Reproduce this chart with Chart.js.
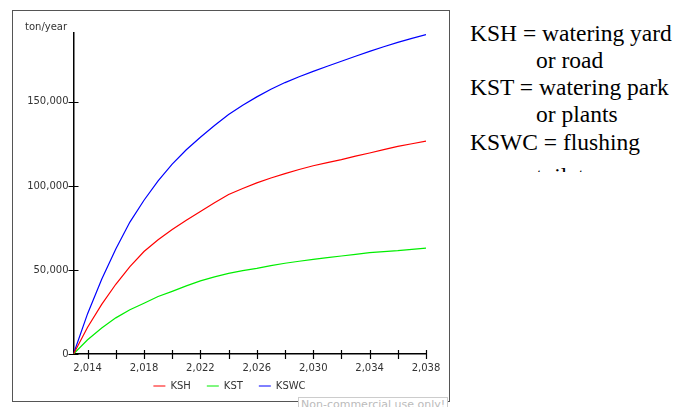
<!DOCTYPE html>
<html>
<head>
<meta charset="utf-8">
<script src="https://cdn.jsdelivr.net/npm/chart.js@4.4.1/dist/chart.umd.min.js"></script>
<style>
  body { margin: 0; width: 692px; height: 407px; overflow: hidden; position: relative; background: #fff; font-family: "DejaVu Sans", sans-serif; }
  #box { position: absolute; left: 12px; top: 10px; width: 436px; height: 390px; border: 1px solid #555; }
  #wrap { position: absolute; left: 13px; top: 11px; width: 436px; height: 401px; }
  #unit { position: absolute; left: 25px; top: 21px; font-size: 10px; line-height: 12px; color: #333; }
  #notes { position: absolute; left: 460px; top: 0; width: 232px; height: 172px; overflow: hidden;
           font-family: "Liberation Serif", "Times New Roman", serif; font-size: 23.5px; line-height: 27px; color: #000; }
  #notes div { position: absolute; white-space: pre; }
  #wm { position: absolute; left: 298px; top: 397px; padding: 0 2px; border: 1px solid #ccc; background: #fff;
        font-size: 11px; line-height: 13px; color: #bbb; }
</style>
</head>
<body>
<div id="box"></div>
<div id="wrap"><canvas id="chart"></canvas></div>
<div id="unit">ton/year</div>
<div id="notes">
  <div style="left:10px;top:19.5px">KSH = watering yard</div>
  <div style="left:76px;top:46.8px">or road</div>
  <div style="left:10px;top:74px">KST = watering park</div>
  <div style="left:76px;top:101.4px">or plants</div>
  <div style="left:10px;top:128.7px">KSWC = flushing</div>
  <div style="left:76px;top:163px">toilets</div>
</div>
<div id="wm">Non-commercial use only!</div>
<script>
// years 2013 - 2038
const years = [2013, 2014, 2015, 2016, 2017, 2018, 2019, 2020, 2021, 2022, 2023, 2024, 2025,
               2026, 2027, 2028, 2029, 2030, 2031, 2032, 2033, 2034, 2035, 2036, 2037, 2038];
const ksh  = [0, 15900, 29500, 41500, 52000, 61000, 68000, 74100, 79600, 84800, 90000, 94900, 98500,
              101800, 104700, 107300, 109800, 112000, 113900, 115700, 117700, 119600, 121600, 123500, 125100, 126700];
const kst  = [0, 8500, 15500, 21500, 26300, 30200, 34200, 37300, 40500, 43500, 45900, 48000, 49600,
              51000, 52600, 54000, 55200, 56300, 57300, 58300, 59300, 60300, 60900, 61500, 62300, 63000];
const kswc = [0, 24000, 44500, 62500, 78500, 91500, 103000, 113000, 121500, 129000, 136000, 142500, 148000,
              153000, 157500, 161500, 165000, 168200, 171200, 174200, 177200, 180100, 182800, 185400, 187800, 190000];
const xTicks = [2014, 2016, 2018, 2020, 2022, 2024, 2026, 2028, 2030, 2032, 2034, 2036, 2038];
const xLabels = [2014, 2018, 2022, 2026, 2030, 2034, 2038];
const yTicks = [0, 50000, 100000, 150000];

const pts = arr => arr.map((v, i) => ({ x: years[i], y: v }));
const fmt = v => v.toLocaleString('en-US');

// tick marks that cross the axis line
const tickMarks = {
  id: 'tickMarks',
  afterDraw(chart) {
    const { ctx, scales: { x, y } } = chart;
    ctx.save();
    ctx.strokeStyle = '#000';
    ctx.lineWidth = 1.2;
    ctx.beginPath();
    x.ticks.forEach(t => {
      const px = Math.round(x.getPixelForValue(t.value)) + 0.5;
      ctx.moveTo(px, x.top - 4);
      ctx.lineTo(px, x.top + 5);
    });
    y.ticks.forEach(t => {
      const py = Math.round(y.getPixelForValue(t.value)) + 0.5;
      ctx.moveTo(y.right - 5, py);
      ctx.lineTo(y.right + 5, py);
    });
    ctx.stroke();
    ctx.restore();
  }
};

// legend sits a bit higher and right of where chart.js centres it
const legendShift = {
  id: 'legendShift',
  afterLayout(chart) {
    const lg = chart.legend;
    lg.top -= 11; lg.bottom -= 11;
    lg.left += 10; lg.right += 10;
  }
};

new Chart(document.getElementById('chart'), {
  type: 'line',
  data: {
    datasets: [
      { label: 'KSH', data: pts(ksh), borderColor: '#ff0000', backgroundColor: '#ff0000' },
      { label: 'KST', data: pts(kst), borderColor: '#00ee00', backgroundColor: '#00ee00' },
      { label: 'KSWC', data: pts(kswc), borderColor: '#0000ff', backgroundColor: '#0000ff' }
    ]
  },
  options: {
    responsive: true,
    maintainAspectRatio: false,
    animation: false,
    elements: {
      line: { borderWidth: 1.2, tension: 0 },
      point: { radius: 0, pointStyle: 'line' }
    },
    layout: { padding: { left: 0, top: 22, right: 23, bottom: 0 } },
    scales: {
      x: {
        type: 'linear',
        min: 2013,
        max: 2038,
        afterBuildTicks: s => { s.ticks = xTicks.map(v => ({ value: v })); },
        afterFit: s => { s.height = 22; },
        grid: { display: false, drawTicks: false },
        border: { display: true, color: '#000', width: 1.5 },
        ticks: {
          padding: 8,
          maxRotation: 0,
          autoSkip: false,
          color: '#333',
          font: { family: 'DejaVu Sans', size: 10 },
          callback: v => xLabels.includes(v) ? fmt(v) : ''
        }
      },
      y: {
        min: 0,
        max: 191000,
        afterBuildTicks: s => { s.ticks = yTicks.map(v => ({ value: v })); },
        afterFit: s => { s.width = 60.5; },
        grid: { display: false, drawTicks: false },
        border: { display: true, color: '#000', width: 1.5 },
        ticks: {
          padding: 5,
          color: '#333',
          font: { family: 'DejaVu Sans', size: 10 },
          callback: v => fmt(v)
        }
      }
    },
    plugins: {
      legend: {
        position: 'bottom',
        labels: {
          usePointStyle: true,
          pointStyle: 'line',
          pointStyleWidth: 12,
          padding: 16,
          color: '#333',
          font: { family: 'DejaVu Sans', size: 10 }
        }
      },
      tooltip: { enabled: false }
    }
  },
  plugins: [tickMarks, legendShift]
});
</script>
</body>
</html>
